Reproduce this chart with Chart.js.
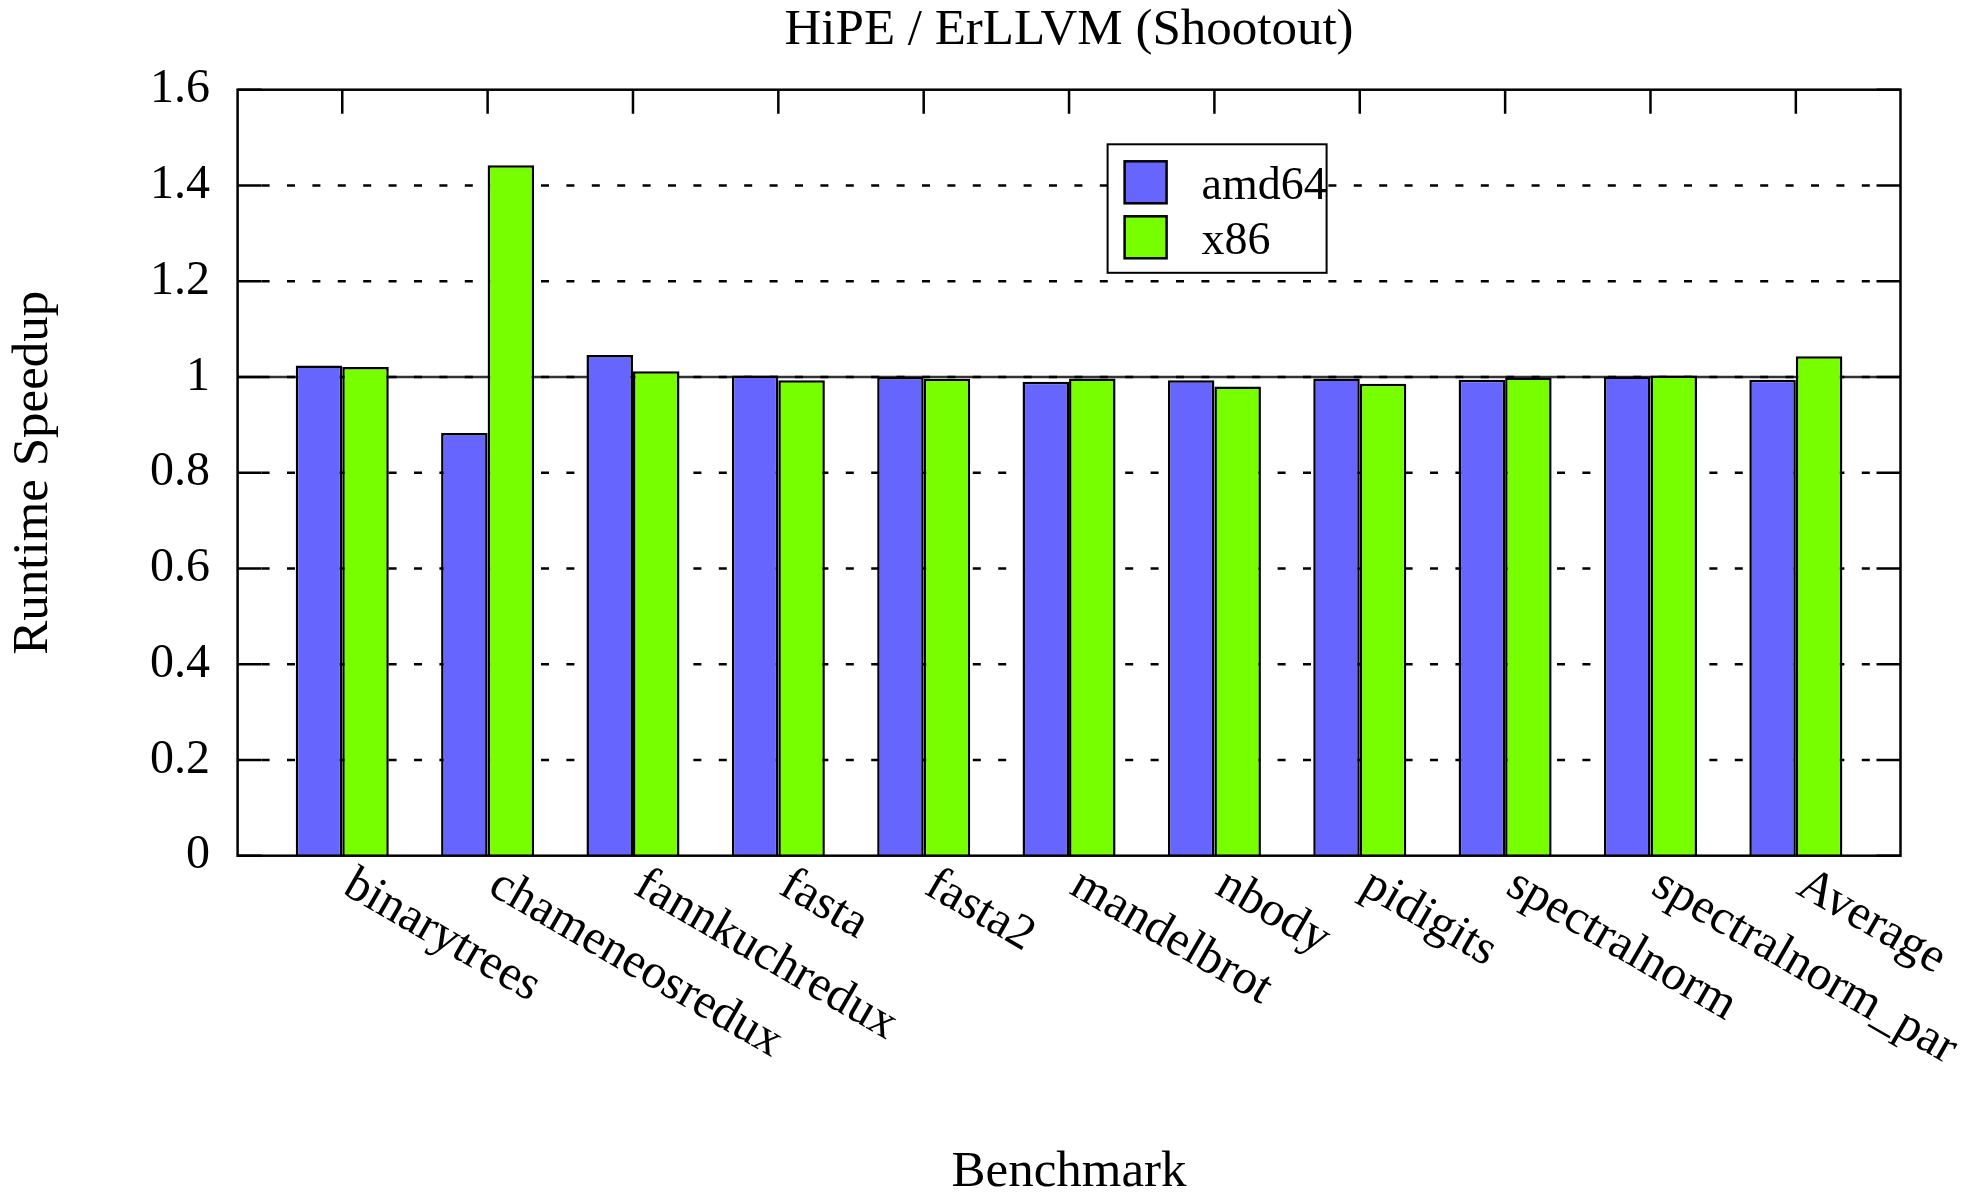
<!DOCTYPE html>
<html>
<head>
<meta charset="utf-8">
<script src="https://cdn.jsdelivr.net/npm/chart.js@4.4.1/dist/chart.umd.min.js"></script>
<style>
html,body{margin:0;padding:0;background:#fff;overflow:hidden;}
#c{display:block;}
</style>
</head>
<body>
<canvas id="c" width="1982" height="1193"></canvas>
<script>
const categories = ['binarytrees','chameneosredux','fannkuchredux','fasta','fasta2','mandelbrot','nbody','pidigits','spectralnorm','spectralnorm_par','Average'];
const amd64 = [1.024, 0.883, 1.046, 1.003, 1.000, 0.990, 0.993, 0.997, 0.994, 1.001, 0.994];
const x86   = [1.021, 1.442, 1.012, 0.993, 0.996, 0.997, 0.980, 0.986, 0.999, 1.003, 1.043];
const yTicks = [0, 0.2, 0.4, 0.6, 0.8, 1, 1.2, 1.4, 1.6];
const yTickLabels = ['0', '0.2', '0.4', '0.6', '0.8', '1', '1.2', '1.4', '1.6'];
const seriesNames = ['amd64', 'x86'];
const seriesColors = ['#6666ff', '#77ff00'];

const FONT = 'Liberation Serif, Times New Roman, serif';
Chart.defaults.font.family = FONT;
Chart.defaults.color = '#000';

const decorPlugin = {
  id: 'decor',
  beforeDatasetsDraw(chart) {
    const {ctx, chartArea: a, scales: {y}} = chart;
    ctx.save();
    // solid reference line at 1
    ctx.strokeStyle = '#333';
    ctx.lineWidth = 2.5;
    ctx.beginPath();
    const y1 = y.getPixelForValue(1);
    ctx.moveTo(a.left, y1); ctx.lineTo(a.right, y1);
    ctx.stroke();
    // dotted grid
    ctx.strokeStyle = '#000';
    ctx.lineWidth = 2.5;
    ctx.setLineDash([8, 17.4]);
    yTicks.forEach(v => {
      if (v <= y.min || v >= y.max) return;
      const py = y.getPixelForValue(v);
      ctx.beginPath();
      ctx.moveTo(a.left + 24, py); ctx.lineTo(a.right - 24, py);
      ctx.stroke();
    });
    ctx.restore();
  },
  afterDatasetsDraw(chart) {
    const {ctx, chartArea: a, scales: {x, y}} = chart;
    ctx.save();
    ctx.strokeStyle = '#000';
    ctx.lineWidth = 2.5;
    ctx.setLineDash([]);
    // inward ticks
    ctx.beginPath();
    yTicks.forEach(v => {
      const py = y.getPixelForValue(v);
      ctx.moveTo(a.left, py); ctx.lineTo(a.left + 24, py);
      ctx.moveTo(a.right, py); ctx.lineTo(a.right - 24, py);
    });
    categories.forEach((c, i) => {
      const px = x.getPixelForValue(i);
      ctx.moveTo(px, a.top); ctx.lineTo(px, a.top + 24);
    });
    ctx.stroke();
    // frame
    ctx.strokeRect(a.left, a.top, a.right - a.left, a.bottom - a.top);

    // rotated category labels
    ctx.fillStyle = '#000';
    ctx.font = '49px ' + FONT;
    ctx.textAlign = 'left';
    ctx.textBaseline = 'alphabetic';
    categories.forEach((c, i) => {
      const px = x.getPixelForValue(i);
      ctx.save();
      ctx.translate(px - 1, a.bottom + 37);
      ctx.rotate(Math.PI / 6);
      ctx.fillText(c, 0, 0);
      ctx.restore();
    });

    // legend
    const lx = a.left + 870, ly = a.top + 54.6;
    const lw = 219, lh = 128.5;
    ctx.fillStyle = '#fff';
    ctx.fillRect(lx, ly, lw, lh);
    ctx.lineWidth = 2;
    ctx.strokeRect(lx, ly, lw, lh);
    chart.data.datasets.forEach((ds, i) => {
      const sy = ly + 17 + i * 55;
      ctx.fillStyle = ds.backgroundColor;
      ctx.fillRect(lx + 17, sy, 42, 42);
      ctx.strokeStyle = '#000';
      ctx.lineWidth = 2.5;
      ctx.strokeRect(lx + 17, sy, 42, 42);
      ctx.fillStyle = '#000';
      ctx.font = '46px ' + FONT;
      ctx.textAlign = 'left';
      ctx.textBaseline = 'alphabetic';
      ctx.fillText(ds.label, lx + 94, sy + 38);
    });
    ctx.restore();
  }
};

new Chart(document.getElementById('c'), {
  type: 'bar',
  data: {
    datasets: seriesNames.map((name, k) => ({
      label: name,
      data: (k === 0 ? amd64 : x86).map((v, i) => ({x: i, y: v})),
      backgroundColor: seriesColors[k],
      borderColor: '#000',
      borderWidth: 2.5,
      categoryPercentage: 0.64,
      barPercentage: 1.0
    }))
  },
  options: {
    responsive: false,
    animation: false,
    devicePixelRatio: 1,
    layout: {padding: {left: 0, right: 81.5, top: 0, bottom: 0}},
    plugins: {
      legend: {display: false},
      tooltip: {enabled: false},
      title: {
        display: true,
        fullSize: false,
        text: 'HiPE / ErLLVM (Shootout)',
        color: '#000',
        font: {family: FONT, size: 51, weight: 'normal', lineHeight: 1.2},
        padding: {top: 0, bottom: 28.5}
      }
    },
    scales: {
      x: {
        type: 'linear',
        min: -0.72,
        max: 10.72,
        offset: false,
        grid: {display: false, drawTicks: false},
        border: {display: false},
        ticks: {display: false},
        afterBuildTicks: (s) => { s.ticks = categories.map((c, i) => ({value: i})); },
        afterFit: (s) => { s.height = 1193 - 855.7; },
        title: {
          display: true,
          text: 'Benchmark',
          color: '#000',
          font: {family: FONT, size: 51, lineHeight: 0.8},
          padding: {top: 0, bottom: 0}
        }
      },
      y: {
        min: 0,
        max: 1.6,
        grid: {display: false, drawTicks: false, tickLength: 0},
        border: {display: false},
        afterBuildTicks: (s) => { s.ticks = yTicks.map(v => ({value: v})); },
        ticks: {
          color: '#000',
          font: {family: FONT, size: 48},
          padding: 27.6,
          callback: (v, i) => yTickLabels[i]
        },
        afterFit: (s) => { s.width = 237.6; },
        title: {
          display: true,
          text: 'Runtime Speedup',
          color: '#000',
          font: {family: FONT, size: 51, lineHeight: 1.2},
          padding: {top: 3, bottom: 0}
        }
      }
    }
  },
  plugins: [decorPlugin]
});
</script>
</body>
</html>
